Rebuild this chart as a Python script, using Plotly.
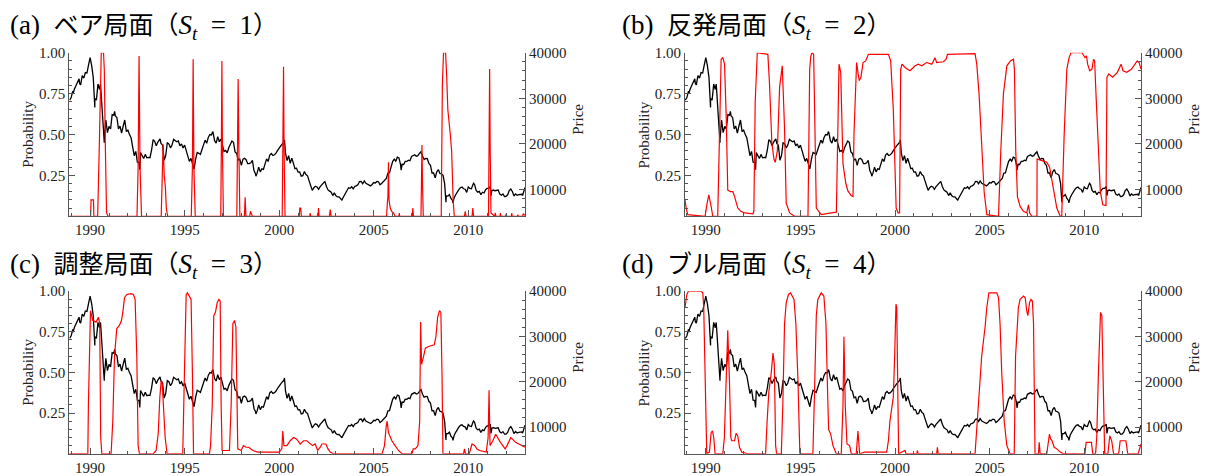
import plotly.graph_objects as go

# ---------------- data ----------------
# Nikkei-like weekly price read as month-end values (Nov 1988 .. Dec 2012)
price_start_year = 1988
price_start_month = 11
price_values = [
    29579, 30159,
    31581, 31985, 32839, 33713, 34266, 32948, 34954, 34431, 35636, 35549, 37268, 38916,
    37189, 34592, 29980, 29584, 33131, 31940, 31036, 25978, 20984, 25194, 22455, 23849,
    23293, 26409, 26292, 26111, 25790, 23291, 23900, 22336, 23916, 25222, 22687, 22984,
    22023, 21339, 19346, 17391, 18348, 15952, 15910, 18061, 17399, 16768, 17684, 16925,
    17024, 16953, 18591, 20919, 20552, 19590, 20380, 21027, 20106, 19704, 16408, 17417,
    20229, 19997, 19112, 19725, 20974, 20644, 20449, 20629, 19564, 19990, 19076, 19723,
    18650, 17053, 16140, 16807, 15437, 14518, 16678, 18117, 17913, 17655, 18744, 19868,
    20813, 20125, 21407, 22041, 21956, 22531, 20693, 20167, 21556, 20467, 21020, 19361,
    18330, 18557, 18003, 19151, 20069, 20605, 20331, 18229, 17888, 16459, 16636, 15259,
    16628, 16832, 16527, 15641, 15671, 15831, 16379, 14108, 13406, 13565, 14883, 13842,
    14499, 14368, 15837, 16702, 16112, 17530, 17862, 17437, 17605, 17943, 18558, 18934,
    19540, 19960, 20337, 17974, 16332, 17411, 15727, 16861, 15747, 14540, 14649, 13786,
    13843, 12884, 12999, 13934, 13262, 12969, 11861, 10714, 9775, 10366, 10697, 10543,
    9998, 10588, 11025, 11493, 11764, 10622, 9878, 9619, 9383, 8640, 9216, 8579,
    8340, 8363, 7973, 7831, 8425, 9083, 9563, 10344, 10219, 10560, 10101, 10677,
    10784, 11042, 11715, 11762, 11237, 11859, 11326, 11082, 10824, 10771, 11069, 11489,
    11388, 11741, 11669, 11009, 11277, 11584, 11900, 12414, 13574, 13607, 14872, 16111,
    16650, 16206, 17060, 16907, 15467, 15505, 15457, 16141, 16128, 16399, 16274, 17226,
    17383, 17604, 17288, 17400, 17876, 18138, 17249, 16569, 16786, 16737, 15681, 15308,
    13592, 13603, 12526, 13850, 14339, 13481, 13377, 13073, 11260, 8577, 8512, 8860,
    7994, 7568, 8110, 8828, 9523, 9958, 10357, 10493, 10133, 10035, 9345, 10546,
    10198, 10126, 11090, 11057, 9769, 9383, 9537, 8824, 9369, 9202, 9937, 10229,
    10238, 10624, 9755, 9850, 9694, 9816, 9833, 8955, 8700, 8988, 8435, 8455,
    8803, 9723, 10084, 9521, 8543, 9007, 8695, 8840, 8870, 8928, 9446, 10395,
]
# intra-month extremes (decimal year, price)
price_extremes = [
    (1989.10, 31000), (1989.45, 33200), (1990.25, 28002), (1990.55, 33100),
    (1990.75, 20222), (1991.30, 27146), (1992.63, 14309), (1993.70, 21100),
    (1995.50, 14485), (1996.48, 22666), (1998.77, 12880), (2000.28, 20833),
    (2003.32, 7607), (2006.45, 14218), (2007.50, 18262), (2008.82, 7162),
    (2009.19, 7054), (2010.28, 11339), (2011.20, 8605), (2012.87, 8661),
]

bear = [
    (1988.90, 0.0), (1990.03, 0.0), (1990.05, 0.10), (1990.18, 0.10), (1990.20, 0.0),
    (1990.40, 0.0), (1990.50, 0.5), (1990.56, 0.98), (1990.59, 1.0), (1990.71, 1.0),
    (1990.75, 0.9), (1990.81, 0.4), (1990.87, 0.02), (1990.95, 0.0),
    (1992.48, 0.0), (1992.54, 0.3), (1992.59, 0.98), (1992.64, 0.3), (1992.72, 0.0),
    (1993.76, 0.0), (1993.82, 0.2), (1993.86, 0.44), (1993.92, 0.25), (1993.98, 0.18),
    (1994.03, 0.05), (1994.10, 0.0),
    (1995.35, 0.0), (1995.41, 0.3), (1995.45, 0.96), (1995.49, 0.3), (1995.56, 0.0),
    (1996.91, 0.0), (1996.94, 0.4), (1996.97, 0.95), (1997.00, 0.4), (1997.05, 0.0),
    (1997.76, 0.0), (1997.80, 0.4), (1997.83, 0.84), (1997.87, 0.4), (1997.92, 0.0),
    (1998.16, 0.0), (1998.20, 0.116), (1998.24, 0.0), (1998.44, 0.0), (1998.48, 0.03),
    (1998.52, 0.02), (1998.58, 0.0),
    (2000.16, 0.0), (2000.20, 0.4), (2000.23, 0.915), (2000.26, 0.4), (2000.31, 0.0),
    (2001.06, 0.0), (2001.09, 0.05), (2001.14, 0.05), (2001.17, 0.0),
    (2001.62, 0.0), (2001.64, 0.02), (2001.66, 0.0),
    (2002.05, 0.0), (2002.08, 0.05), (2002.11, 0.0),
    (2002.66, 0.0), (2002.70, 0.04), (2002.75, 0.0),
    (2005.68, 0.0), (2005.72, 0.08), (2005.75, 0.12), (2005.78, 0.33), (2005.81, 0.1),
    (2005.87, 0.05), (2005.95, 0.03), (2006.05, 0.02), (2006.12, 0.0),
    (2006.33, 0.0), (2006.35, 0.02), (2006.37, 0.0),
    (2007.04, 0.0), (2007.07, 0.05), (2007.10, 0.0),
    (2007.50, 0.0), (2007.53, 0.3), (2007.55, 0.435), (2007.58, 0.2), (2007.62, 0.0),
    (2008.57, 0.0), (2008.63, 0.8), (2008.69, 1.0), (2008.80, 1.0), (2008.86, 0.85),
    (2008.92, 0.65), (2009.05, 0.5), (2009.12, 0.4), (2009.20, 0.1), (2009.26, 0.0),
    (2009.80, 0.0), (2009.84, 0.03), (2009.88, 0.0),
    (2010.20, 0.0), (2010.24, 0.05), (2010.28, 0.0),
    (2011.07, 0.0), (2011.10, 0.4), (2011.13, 0.9), (2011.16, 0.4), (2011.20, 0.02),
    (2011.40, 0.0), (2011.43, 0.02), (2011.46, 0.0), (2011.68, 0.0), (2011.70, 0.02),
    (2011.72, 0.0), (2011.98, 0.0), (2012.00, 0.015), (2012.02, 0.0), (2012.28, 0.0),
    (2012.30, 0.02), (2012.32, 0.0), (2012.60, 0.0), (2012.62, 0.01), (2012.64, 0.0),
    (2012.88, 0.0), (2012.90, 0.015), (2013.00, 0.005),
]

rebound = [
    (1988.90, 0.10), (1988.96, 0.05), (1989.05, 0.01), (1989.96, 0.0),
    (1990.07, 0.08), (1990.16, 0.13), (1990.28, 0.06), (1990.37, 0.0),
    (1990.63, 0.0), (1990.72, 0.5), (1990.81, 0.96), (1990.90, 0.97), (1990.99, 0.93),
    (1991.08, 0.6), (1991.16, 0.16), (1991.30, 0.15), (1991.43, 0.15), (1991.52, 0.12),
    (1991.69, 0.05), (1991.85, 0.03), (1992.05, 0.02), (1992.49, 0.015),
    (1992.54, 0.03), (1992.61, 0.7), (1992.68, 0.99), (1992.72, 1.0), (1993.28, 0.99),
    (1993.37, 0.8), (1993.49, 0.45), (1993.60, 0.35), (1993.67, 0.33), (1993.78, 0.4),
    (1993.90, 0.79), (1994.04, 0.92), (1994.16, 0.54), (1994.25, 0.08), (1994.43, 0.02),
    (1994.69, 0.0), (1995.40, 0.0), (1995.49, 0.9), (1995.55, 0.98), (1995.61, 1.0),
    (1995.70, 0.99), (1995.77, 0.5), (1995.84, 0.05), (1996.10, 0.01), (1996.50, 0.015),
    (1996.63, 0.02), (1996.90, 0.025),
    (1996.95, 0.3), (1997.04, 0.93), (1997.13, 0.88), (1997.20, 0.6), (1997.25, 0.32),
    (1997.40, 0.2), (1997.51, 0.155), (1997.69, 0.125), (1997.78, 0.12),
    (1997.83, 0.5), (1997.92, 0.88), (1997.97, 0.94), (1998.04, 0.88), (1998.11, 0.83),
    (1998.20, 0.85), (1998.31, 0.94), (1998.45, 0.95), (1998.59, 0.99), (1999.65, 0.99),
    (1999.77, 0.95), (1999.91, 0.65), (2000.00, 0.35), (2000.06, 0.05), (2000.16, 0.02),
    (2000.24, 0.02), (2000.30, 0.9), (2000.37, 0.93), (2000.53, 0.91), (2000.79, 0.89),
    (2000.97, 0.91), (2001.06, 0.92), (2001.23, 0.93), (2001.41, 0.92), (2001.67, 0.94),
    (2001.94, 0.93), (2002.03, 0.95), (2002.11, 0.97), (2002.20, 0.94), (2002.56, 0.945),
    (2002.70, 0.96), (2002.77, 0.99), (2004.23, 0.995), (2004.32, 0.93), (2004.44, 0.75),
    (2004.58, 0.45), (2004.71, 0.15), (2004.85, 0.01), (2005.47, 0.0),
    (2005.59, 0.4), (2005.73, 0.75), (2005.91, 0.92), (2006.10, 0.95), (2006.26, 0.96),
    (2006.31, 0.9), (2006.38, 0.4), (2006.47, 0.12), (2006.61, 0.06), (2006.79, 0.03),
    (2006.96, 0.02), (2007.05, 0.07), (2007.12, 0.02), (2007.23, 0.0), (2007.50, 0.0),
    (2007.51, 0.35), (2007.76, 0.34), (2008.02, 0.33), (2008.17, 0.3), (2008.29, 0.22),
    (2008.55, 0.05), (2008.73, 0.0), (2008.81, 0.0),
    (2008.94, 0.5), (2009.08, 0.9), (2009.20, 0.97), (2009.30, 1.0), (2009.88, 1.0),
    (2009.98, 0.98), (2010.04, 0.97), (2010.12, 0.98), (2010.18, 0.93), (2010.29, 0.89),
    (2010.41, 0.9), (2010.49, 0.96), (2010.55, 0.95), (2010.62, 0.75), (2010.72, 0.45),
    (2010.85, 0.15), (2010.98, 0.07), (2011.15, 0.065), (2011.20, 0.85), (2011.30, 0.87),
    (2011.50, 0.85), (2011.75, 0.88), (2011.95, 0.93), (2012.05, 0.89), (2012.25, 0.88),
    (2012.50, 0.9), (2012.80, 0.95), (2012.90, 0.94), (2013.00, 0.9),
]

adjust = [
    (1988.90, 0.0), (1989.88, 0.0), (1989.91, 0.3), (1990.02, 0.88), (1990.14, 0.82),
    (1990.32, 0.81), (1990.44, 0.84), (1990.51, 0.8), (1990.56, 0.1), (1990.62, 0.0),
    (1991.11, 0.0), (1991.20, 0.2), (1991.29, 0.6), (1991.41, 0.77), (1991.55, 0.79),
    (1991.66, 0.82), (1991.73, 0.87), (1991.82, 0.96), (1991.94, 0.98), (1992.17, 0.985),
    (1992.29, 0.98), (1992.38, 0.95), (1992.47, 0.6), (1992.54, 0.05), (1992.61, 0.0),
    (1993.35, 0.0), (1993.49, 0.02), (1993.60, 0.12), (1993.69, 0.35), (1993.76, 0.45),
    (1993.81, 0.44), (1993.88, 0.3), (1993.97, 0.1), (1994.07, 0.0),
    (1994.90, 0.0), (1994.99, 0.5), (1995.08, 0.98), (1995.15, 0.99), (1995.26, 0.97),
    (1995.34, 0.95), (1995.41, 0.5), (1995.47, 0.0),
    (1996.31, 0.0), (1996.37, 0.05), (1996.46, 0.3), (1996.54, 0.85), (1996.63, 0.87),
    (1996.72, 0.93), (1996.81, 0.95), (1996.88, 0.94), (1996.93, 0.3), (1996.98, 0.02),
    (1997.37, 0.02), (1997.46, 0.3), (1997.55, 0.8), (1997.64, 0.82), (1997.71, 0.78),
    (1997.76, 0.3), (1997.81, 0.03), (1997.99, 0.02), (1998.11, 0.05), (1998.25, 0.04),
    (1998.39, 0.04), (1998.61, 0.02), (1998.87, 0.01),
    (2000.00, 0.01), (2000.14, 0.03), (2000.19, 0.14), (2000.25, 0.05), (2000.41, 0.05),
    (2000.58, 0.08), (2000.76, 0.1), (2000.93, 0.09), (2001.11, 0.06), (2001.29, 0.08),
    (2001.46, 0.08), (2001.64, 0.06), (2001.76, 0.05), (2001.90, 0.06), (2002.04, 0.02),
    (2002.17, 0.04), (2002.26, 0.06), (2002.47, 0.06), (2002.58, 0.03), (2002.70, 0.01),
    (2002.88, 0.0),
    (2005.44, 0.0), (2005.57, 0.05), (2005.66, 0.17), (2005.71, 0.2), (2005.78, 0.13),
    (2005.96, 0.08), (2006.13, 0.05), (2006.31, 0.02), (2006.49, 0.0),
    (2007.02, 0.0), (2007.09, 0.03), (2007.20, 0.03), (2007.34, 0.05), (2007.43, 0.2),
    (2007.48, 0.81), (2007.53, 0.55), (2007.64, 0.6), (2007.73, 0.65), (2007.90, 0.66),
    (2008.08, 0.665), (2008.20, 0.67), (2008.29, 0.72), (2008.38, 0.84), (2008.48, 0.88),
    (2008.55, 0.87), (2008.61, 0.5), (2008.66, 0.0),
    (2009.75, 0.0), (2009.80, 0.03), (2009.85, 0.0), (2010.05, 0.0), (2010.20, 0.06),
    (2010.35, 0.05), (2010.45, 0.03), (2010.60, 0.02), (2010.95, 0.01), (2011.05, 0.1),
    (2011.10, 0.39), (2011.15, 0.05), (2011.30, 0.08), (2011.45, 0.12), (2011.70, 0.07),
    (2011.95, 0.03), (2012.05, 0.05), (2012.25, 0.10), (2012.50, 0.07), (2012.85, 0.05),
    (2013.00, 0.04),
]

bull = [
    (1988.90, 0.90), (1989.00, 0.98), (1989.08, 1.0), (1989.75, 1.0), (1989.84, 0.99),
    (1989.89, 0.9), (1989.96, 0.5), (1990.05, 0.0),
    (1990.19, 0.01), (1990.28, 0.13), (1990.35, 0.14), (1990.42, 0.1), (1990.49, 0.0),
    (1990.90, 0.0), (1990.98, 0.1), (1991.07, 0.45), (1991.16, 0.76), (1991.25, 0.45),
    (1991.32, 0.1), (1991.37, 0.08), (1991.52, 0.08), (1991.60, 0.125), (1991.69, 0.11),
    (1991.78, 0.04), (1991.90, 0.01), (1992.20, 0.0),
    (1993.16, 0.0), (1993.24, 0.2), (1993.33, 0.38), (1993.46, 0.5), (1993.55, 0.62),
    (1993.62, 0.55), (1993.69, 0.05), (1993.74, 0.0),
    (1993.99, 0.0), (1994.07, 0.3), (1994.16, 0.8), (1994.25, 0.93), (1994.37, 0.98),
    (1994.48, 0.99), (1994.66, 0.95), (1994.76, 0.8), (1994.87, 0.45), (1994.97, 0.0),
    (1995.66, 0.0), (1995.75, 0.4), (1995.84, 0.85), (1995.92, 0.95), (1996.10, 0.99),
    (1996.24, 0.97), (1996.35, 0.8), (1996.42, 0.45), (1996.49, 0.15), (1996.60, 0.12),
    (1996.72, 0.05), (1996.90, 0.0),
    (1997.16, 0.0), (1997.25, 0.3), (1997.30, 0.72), (1997.37, 0.3), (1997.46, 0.06),
    (1997.60, 0.05), (1997.69, 0.0),
    (1997.95, 0.0), (1998.04, 0.14), (1998.13, 0.0), (1998.40, 0.01), (1999.56, 0.01),
    (1999.65, 0.08), (1999.73, 0.2), (1999.82, 0.28), (1999.91, 0.35), (1999.98, 0.6),
    (2000.05, 0.92), (2000.09, 0.9), (2000.14, 0.5), (2000.19, 0.0),
    (2000.53, 0.02), (2000.58, 0.0), (2001.15, 0.0), (2001.18, 0.02), (2001.22, 0.0),
    (2002.20, 0.0), (2002.24, 0.04), (2002.28, 0.0),
    (2004.23, 0.0), (2004.41, 0.3), (2004.58, 0.6), (2004.76, 0.78), (2004.85, 0.9),
    (2004.96, 0.99), (2005.38, 0.99), (2005.47, 0.96), (2005.55, 0.8), (2005.64, 0.5),
    (2005.77, 0.2), (2005.91, 0.05), (2006.08, 0.0),
    (2006.30, 0.0), (2006.37, 0.6), (2006.52, 0.9), (2006.61, 0.95), (2006.79, 0.97),
    (2006.88, 0.96), (2006.96, 0.88), (2007.02, 0.85), (2007.11, 0.93), (2007.18, 0.95),
    (2007.26, 0.94), (2007.32, 0.8), (2007.40, 0.0),
    (2007.58, 0.0), (2007.62, 0.07), (2007.67, 0.0), (2008.02, 0.0), (2008.11, 0.08),
    (2008.16, 0.12), (2008.23, 0.09), (2008.30, 0.08), (2008.41, 0.04), (2008.55, 0.03),
    (2008.73, 0.01), (2008.90, 0.0),
    (2010.04, 0.0), (2010.10, 0.07), (2010.38, 0.07), (2010.45, 0.0), (2010.60, 0.0),
    (2010.66, 0.1), (2010.75, 0.5), (2010.86, 0.87), (2010.93, 0.85), (2011.02, 0.4),
    (2011.08, 0.0), (2011.25, 0.0), (2011.35, 0.11), (2011.45, 0.08), (2011.55, 0.0),
    (2011.82, 0.0), (2011.90, 0.08), (2012.20, 0.08), (2012.30, 0.0), (2012.85, 0.0),
    (2013.00, 0.06),
]

panel_letters = ["a", "b", "c", "d"]
regime_names = ["ベア局面", "反発局面", "調整局面", "ブル局面"]
regime_ids = [1, 2, 3, 4]
regimes = [bear, rebound, adjust, bull]
year_ticks = [1990, 1995, 2000, 2005, 2010]
prob_ticks = [0.25, 0.50, 0.75, 1.00]
prob_labels = ["0.25", "0.50", "0.75", "1.00"]
price_ticks = [10000, 20000, 30000, 40000]
price_labels = ["10000", "20000", "30000", "40000"]

# ---------------- build price series ----------------
price_pts = []
for i, v in enumerate(price_values):
    m = price_start_month + i
    yr = price_start_year + (m - 1) // 12 + ((m - 1) % 12 + 1) / 12.0
    price_pts.append((yr, v))
price_pts += price_extremes
price_pts.sort()
px_t = [p[0] for p in price_pts]
px_v = [p[1] for p in price_pts]

# ---------------- layout ----------------
W, H = 1208, 476


def fx(p):
    return p / W


def fy(p):
    return 1 - p / H


SERIF = "Liberation Serif, Times New Roman, serif"
TITLEFONT = "Liberation Serif, Noto Sans CJK JP, serif"
AX = "#555555"
TXT = "#222222"
EN = "\u2002"


def make_title(letter, name, sid):
    cjk = "<span style='font-size:25px'>"
    return (f"({letter}){EN}{cjk}{name}（</span>"
            f"<i>S</i><sub><i>t</i></sub>{EN}={EN}{sid}{cjk}）</span>")


# panel boxes in pixels: (left, right, top, bottom)
boxes = [
    (69.3, 525.0, 45.7, 212.7),
    (685.0, 1141.0, 45.7, 212.7),
    (69.3, 525.0, 289.3, 455.3),
    (685.0, 1141.0, 289.3, 455.3),
]
title_pos = [(8, 19), (620, 19), (8, 264), (620, 264)]

fig = go.Figure()
layout = dict(
    width=W, height=H, margin=dict(l=0, r=0, t=0, b=0),
    paper_bgcolor="white", plot_bgcolor="rgba(0,0,0,0)",
    showlegend=False, annotations=[],
)

for k in range(4):
    L, R, T, B = boxes[k]
    xi = k + 1
    yp = 2 * k + 1   # price axis (base, right)
    yq = 2 * k + 2   # probability axis (overlay, left)
    xname = "x" if xi == 1 else f"x{xi}"
    ypname = "y" if yp == 1 else f"y{yp}"
    yqname = f"y{yq}"

    fig.add_trace(go.Scatter(x=px_t, y=px_v, mode="lines",
                             line=dict(color="black", width=1.3),
                             xaxis=xname, yaxis=ypname, hoverinfo="skip"))
    rt = [p[0] for p in regimes[k]]
    rv = [p[1] for p in regimes[k]]
    fig.add_trace(go.Scatter(x=rt, y=rv, mode="lines",
                             line=dict(color="#ff0000", width=1.2),
                             xaxis=xname, yaxis=yqname, hoverinfo="skip"))

    layout[f"xaxis{'' if xi == 1 else xi}"] = dict(
        domain=[fx(L), fx(R)], range=[1988.9, 2013.0], anchor=ypname,
        tickmode="array", tickvals=year_ticks, ticktext=[str(y) for y in year_ticks],
        ticks="inside", ticklen=6, tickcolor=AX, tickwidth=1,
        minor=dict(ticks="inside", ticklen=3, tickcolor=AX, dtick=1, tick0=1990, showgrid=False),
        showline=True, linecolor=AX, linewidth=1, showgrid=False, zeroline=False,
        tickfont=dict(family=SERIF, size=15, color=TXT), fixedrange=True,
    )
    layout[f"yaxis{'' if yp == 1 else yp}"] = dict(
        domain=[fy(B), fy(T)], range=[4100, 40000], anchor=xname, side="right",
        tickmode="array", tickvals=price_ticks, ticktext=price_labels,
        ticks="inside", ticklen=6, tickcolor=AX, tickwidth=1,
        minor=dict(ticks="inside", ticklen=3, tickcolor=AX, dtick=2000, tick0=0, showgrid=False),
        showline=True, linecolor=AX, linewidth=1, showgrid=False, zeroline=False,
        tickfont=dict(family=SERIF, size=15, color=TXT), fixedrange=True,
    )
    layout[f"yaxis{yq}"] = dict(
        overlaying=ypname, anchor=xname, side="left", range=[0, 1],
        tickmode="array", tickvals=prob_ticks, ticktext=prob_labels,
        ticks="inside", ticklen=6, tickcolor=AX, tickwidth=1,
        minor=dict(ticks="inside", ticklen=3, tickcolor=AX, dtick=0.05, tick0=0, showgrid=False),
        showline=True, linecolor=AX, linewidth=1, showgrid=False, zeroline=False,
        tickfont=dict(family=SERIF, size=15, color=TXT), fixedrange=True,
    )

    tx, ty = title_pos[k]
    layout["annotations"].append(dict(
        text=make_title(panel_letters[k], regime_names[k], regime_ids[k]),
        x=fx(tx), y=fy(ty), xref="paper", yref="paper",
        xanchor="left", yanchor="middle", showarrow=False,
        font=dict(family=TITLEFONT, size=27, color="black")))
    layout["annotations"].append(dict(
        text="Probability", x=fx(L - 41), y=fy((T + B) / 2),
        xref="paper", yref="paper", xanchor="center", yanchor="middle",
        textangle=-90, showarrow=False, font=dict(family=SERIF, size=15, color=TXT)))
    layout["annotations"].append(dict(
        text="Price", x=fx(R + 53), y=fy((T + B) / 2 - 15),
        xref="paper", yref="paper", xanchor="center", yanchor="middle",
        textangle=-90, showarrow=False, font=dict(family=SERIF, size=15, color=TXT)))

fig.update_layout(**layout)
# remove the default page margin so the figure sits at the window origin
fig.write_html(
    "out.html",
    config={"displayModeBar": False},
    post_script="document.body.style.margin='0px';"
                "document.body.style.overflow='hidden';"
                "document.documentElement.style.overflow='hidden';",
)
